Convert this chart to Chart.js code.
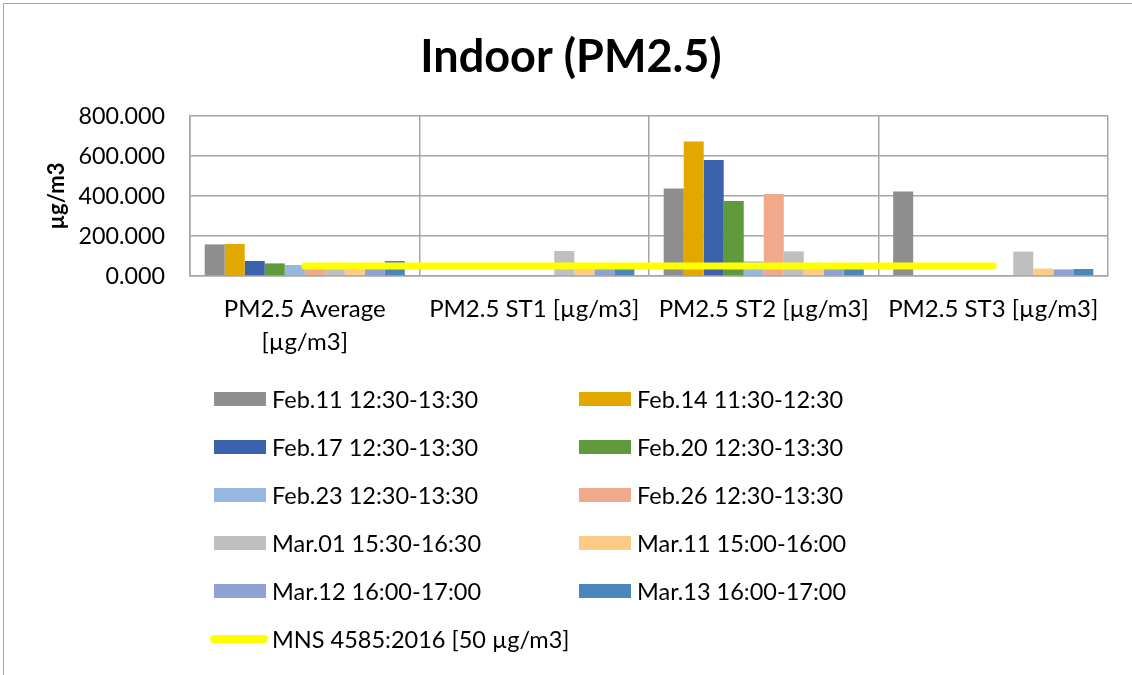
<!DOCTYPE html>
<html>
<head>
<meta charset="utf-8">
<script src="https://cdn.jsdelivr.net/npm/chart.js@4"></script>
<style>
  html, body { margin: 0; padding: 0; background: #fff; }
  #wrap { position: relative; width: 1132px; height: 675px; overflow: hidden; }
  #frame { position: absolute; left: 3px; top: 3px; width: 1140px; height: 700px; border: 1px solid #a6a6a6; }
  canvas { position: absolute; left: 0; top: 0; }
  #legend { position: absolute; left: 210px; top: 375px; display: grid; grid-template-columns: 365px 365px; grid-auto-rows: 48px; font-family: Lato, sans-serif; font-size: 23.5px; color: #000; }
  .item { display: flex; align-items: center; }
  .sw { width: 52px; height: 14px; margin-left: 4px; margin-right: 6px; }
  .ln { width: 58px; height: 8px; border-radius: 4px; margin-right: 4px; }
</style>
</head>
<body>
<div id="wrap">
  <div id="frame"></div>
  <canvas id="chart" width="1132" height="675"></canvas>
  <div id="legend"></div>
</div>
<script>
const categories = [['PM2.5 Average', '[µg/m3]'], 'PM2.5 ST1 [µg/m3]', 'PM2.5 ST2 [µg/m3]', 'PM2.5 ST3 [µg/m3]'];

const seriesNames = [
  'Feb.11 12:30-13:30', 'Feb.14 11:30-12:30',
  'Feb.17 12:30-13:30', 'Feb.20 12:30-13:30',
  'Feb.23 12:30-13:30', 'Feb.26 12:30-13:30',
  'Mar.01 15:30-16:30', 'Mar.11 15:00-16:00',
  'Mar.12 16:00-17:00', 'Mar.13 16:00-17:00'
];

const feb11 = [158, null, 438, 423];
const feb14 = [160, null, 672, null];
const feb17 = [75, null, 580, null];
const feb20 = [63, null, 375, null];
const feb23 = [55, null, 73, null];
const feb26 = [45, null, 410, null];
const mar01 = [45, 125, 123, 122];
const mar11 = [42, 38, 40, 37];
const mar12 = [40, 35, 36, 33];
const mar13 = [75, 36, 38, 35];

const limitName = 'MNS 4585:2016 [50 µg/m3]';
const limitValues = [50, 50, 50, 50];

const yTicks = [0, 200, 400, 600, 800];

const seriesValues = [feb11, feb14, feb17, feb20, feb23, feb26, mar01, mar11, mar12, mar13];
const colors = ['#8e8e8e', '#e3a800', '#3b63ad', '#5f9a3d', '#96b8e0', '#f0a98b', '#bfbfbf', '#fecb86', '#8fa2d4', '#4a87bf'];

const datasets = seriesValues.map((vals, i) => ({
  type: 'bar',
  label: seriesNames[i],
  data: vals,
  backgroundColor: colors[i],
  borderWidth: 0,
  categoryPercentage: 0.872,
  barPercentage: 1,
  order: 1
}));

datasets.push({
  type: 'line',
  label: limitName,
  data: limitValues,
  borderColor: '#ffff00',
  backgroundColor: '#ffff00',
  borderWidth: 7,
  borderCapStyle: 'round',
  pointRadius: 0,
  fill: false,
  order: 0
});

const gridColor = '#a6a6a6';

const chart = new Chart(document.getElementById('chart').getContext('2d'), {
  type: 'bar',
  data: { labels: categories, datasets: datasets },
  options: {
    responsive: false,
    animation: false,
    layout: { padding: { left: 34, right: 24, top: 0, bottom: 314 } },
    plugins: {
      legend: { display: false },
      tooltip: { enabled: false },
      title: {
        display: true,
        text: 'Indoor (PM2.5)',
        color: '#000',
        font: { family: 'Lato', size: 45, weight: 'bold' },
        padding: { top: 30, bottom: 32 }
      }
    },
    scales: {
      x: {
        afterFit: (s) => { s.height = 85; },
        grid: { color: gridColor, lineWidth: 1.5, drawTicks: false, offset: true },
        border: { color: gridColor, width: 1.5 },
        ticks: { color: '#000', font: { family: 'Lato', size: 24, lineHeight: 1.375 }, padding: 17, maxRotation: 0, autoSkip: false }
      },
      y: {
        min: 0,
        max: 800,
        afterFit: (s) => { s.width = 156; },
        afterBuildTicks: (s) => { s.ticks = yTicks.map(v => ({ value: v })); },
        grid: { color: gridColor, lineWidth: 1.5, drawTicks: false },
        border: { color: gridColor, width: 1.5 },
        ticks: { color: '#000', font: { family: 'Lato', size: 23.3 }, padding: 25, callback: (v) => v.toFixed(3) },
        title: {
          display: true,
          text: 'µg/m3',
          color: '#000',
          font: { family: 'Lato', size: 22, weight: 'bold' },
          padding: { top: 10, bottom: 0 }
        }
      }
    }
  }
});

// legend in two columns, built from the chart's datasets
const legendEl = document.getElementById('legend');
chart.data.datasets.forEach((ds) => {
  const item = document.createElement('div');
  item.className = 'item';
  const sw = document.createElement('div');
  sw.className = ds.type === 'line' ? 'ln' : 'sw';
  sw.style.background = ds.type === 'line' ? ds.borderColor : ds.backgroundColor;
  const txt = document.createElement('span');
  txt.textContent = ds.label;
  item.appendChild(sw);
  item.appendChild(txt);
  legendEl.appendChild(item);
});
</script>
</body>
</html>
